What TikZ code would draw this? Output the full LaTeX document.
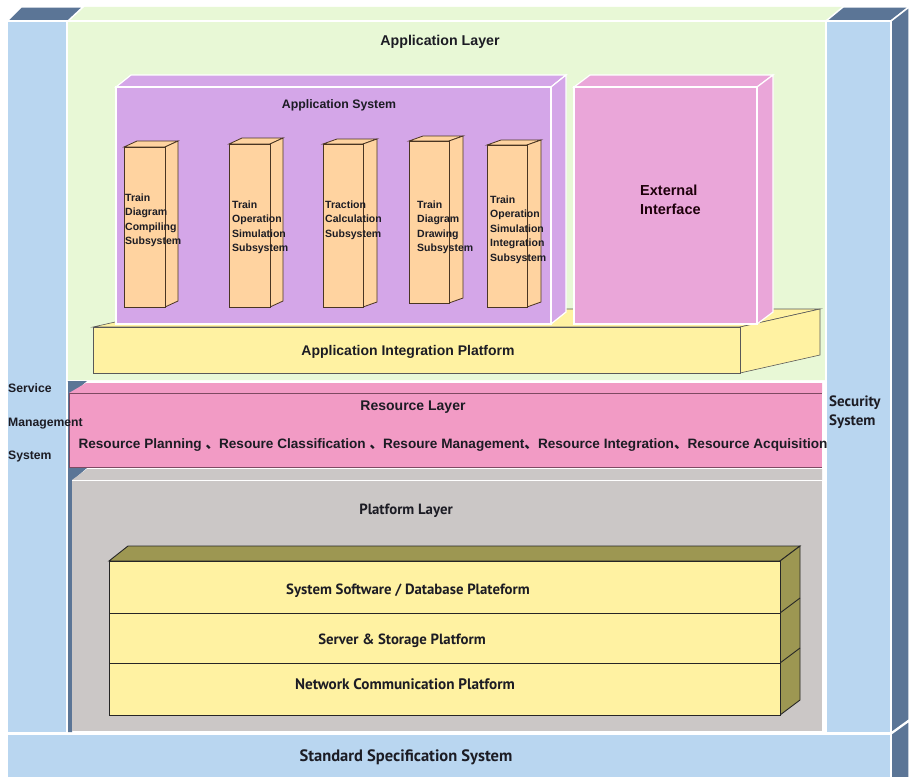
\documentclass[tikz,border=0pt]{standalone}
\usepackage{fontspec}
\setmainfont{Liberation Sans}
\newfontfamily\myr{PT Sans}
\newfontfamily\cjk{Noto Sans CJK SC}

\definecolor{colblue}{HTML}{B9D6F0}
\definecolor{coldark}{HTML}{5B7596}
\definecolor{appgreen}{HTML}{E8F8D6}
\definecolor{apppurple}{HTML}{D4A6E8}
\definecolor{extpink}{HTML}{EAA6D9}
\definecolor{intyellow}{HTML}{FFF2A2}
\definecolor{pillarfill}{HTML}{FFD3A0}
\definecolor{pillaredge}{HTML}{4A3522}
\definecolor{respink}{HTML}{F29BC5}
\definecolor{resedge}{HTML}{7E4A62}
\definecolor{platgray}{HTML}{CBC7C6}
\definecolor{olive}{HTML}{9D9752}
\definecolor{ink}{HTML}{1C1C24}

% front face, then top face and right face of a box seen from the front right
% #1 x1, #2 y1 (top), #3 x2, #4 y2 (bottom), #5 depth dx, #6 depth dy, #7 front style, #8 side style
\newcommand\cuboid[8]{%
  \filldraw[#8] (#1,#2) -- ({#1+#5},{#2-#6}) -- ({#3+#5},{#2-#6}) -- (#3,#2) -- cycle;
  \filldraw[#8] (#3,#2) -- ({#3+#5},{#2-#6}) -- ({#3+#5},{#4-#6}) -- (#3,#4) -- cycle;
  \filldraw[#7] (#1,#2) rectangle (#3,#4);}

\tikzset{
  panel/.style={fill=colblue, draw=white, line width=1.5pt},
  panelside/.style={fill=coldark, draw=white, line width=1.5pt},
  sysbox/.style={fill=apppurple, draw=white, line width=1.2pt},
  extbox/.style={fill=extpink, draw=white, line width=1.2pt},
  pillarbox/.style={fill=pillarfill, draw=pillaredge, line width=0.8pt},
  intbox/.style={fill=intyellow, draw=black!65, line width=0.6pt},
  stackfront/.style={fill=intyellow, draw=black!85, line width=0.9pt},
  stackside/.style={fill=olive, draw=black!85, line width=0.9pt},
  title/.style={font=\bfseries\fontsize{14}{16}\selectfont, text=ink, inner sep=0pt},
  pillartext/.style={font=\bfseries\fontsize{10.5}{14.5}\selectfont, text=ink, align=left,
    anchor=north west, inner sep=0pt},
  mtext/.style={font=\myr\bfseries\fontsize{14.8}{17}\selectfont, text=ink, inner sep=0pt},
}

\begin{document}
\begin{tikzpicture}[x=1pt, y=-1pt]
\useasboundingbox (0,0) rectangle (909,776);
\fill[white] (0,0) rectangle (909,776);

% application layer (green slab)
\fill[appgreen] (68,21) -- (83,7) -- (843,7) -- (826,21) -- (826,380) -- (68,380) -- cycle;
\draw[white, line width=1.2pt] (68,21) -- (826,21);

% service management column (left)
\filldraw[panelside] (7,21) -- (21,7) -- (83,7) -- (68,21) -- cycle;
\filldraw[panel] (7,21) rectangle (67,733);

% security column (right)
\filldraw[panelside] (826,21) -- (843,7) -- (909,7) -- (891,21) -- cycle;
\filldraw[panelside] (891,21) -- (909,7) -- (909,720) -- (891,733) -- cycle;
\filldraw[panel] (826,21) rectangle (891,733);

% standard specification bar (bottom)
\filldraw[panelside] (891,734) -- (909,721) -- (909,778) -- (891,778) -- cycle;
\filldraw[panel] (7,734) rectangle (891,778);

% dark edge of the left column behind the lower layers
\fill[coldark] (67,381) -- (87,381) -- (72,394) -- (72,732) -- (68,732) -- (68,381) -- cycle;
\fill[coldark] (69,467) -- (88,467) -- (72,481) -- cycle;

% resource layer
\fill[respink] (69,393) -- (86,383) -- (822,383) -- (822,393) -- cycle;
\fill[respink] (69,393) rectangle (822,467);
\draw[resedge, line width=0.8pt] (69,393) -- (822,393);
\draw[resedge, line width=0.8pt] (69,467) -- (822,467);
\draw[resedge, line width=0.6pt] (69,393) -- (69,467);

% platform layer
\fill[platgray] (72,480) -- (87,469) -- (822,469) -- (822,480) -- cycle;
\fill[platgray] (72,480) rectangle (822,731);
\draw[white, line width=1pt] (72,480) -- (822,480);

% platform stack
\filldraw[stackside] (109,561) -- (128,546) -- (800,546) -- (780,561) -- cycle;
\filldraw[stackside] (780,561) -- (800,546) -- (800,700) -- (780,715) -- cycle;
\draw[black!85, line width=0.9pt] (780,613) -- (800,598) (780,663) -- (800,648);
\filldraw[stackfront] (109,561) rectangle (780,613);
\filldraw[stackfront] (109,613) rectangle (780,663);
\filldraw[stackfront] (109,663) rectangle (780,715);

% application integration platform
\filldraw[intbox] (93,327) -- (173,309) -- (820,309) -- (740,327) -- cycle;
\filldraw[intbox] (740,327) -- (820,309) -- (820,355) -- (740,373) -- cycle;
\filldraw[intbox] (93,327) rectangle (740,373);

% application system and external interface boxes
\cuboid{116}{87}{551}{324}{15}{12}{sysbox}{sysbox}
\cuboid{574}{87}{757}{324}{16}{12}{extbox}{extbox}

% subsystem pillars
\cuboid{124}{147}{165}{307}{13}{6}{pillarbox}{pillarbox}
\cuboid{229}{144}{270}{307}{13}{6}{pillarbox}{pillarbox}
\cuboid{323}{144}{363}{307}{14}{5}{pillarbox}{pillarbox}
\cuboid{409}{141}{449}{303}{14}{5}{pillarbox}{pillarbox}
\cuboid{487}{145}{527}{307}{14}{5}{pillarbox}{pillarbox}

% labels
\node[title, font=\bfseries\fontsize{14.2}{16}\selectfont] (applayer) at (440,42) {Application Layer};
\node[title, font=\bfseries\fontsize{12.3}{14}\selectfont] (appsys) at (339,105.5) {Application System};
\node[pillartext] (sub1) at (125,193.5) {Train\\Diagram\\Compiling\\Subsystem};
\node[pillartext] (sub2) at (232,200.5) {Train\\Operation\\Simulation\\Subsystem};
\node[pillartext] (sub3) at (325,200.5) {Traction\\Calculation\\Subsystem};
\node[pillartext] (sub4) at (417,200.5) {Train\\Diagram\\Drawing\\Subsystem};
\node[pillartext] (sub5) at (490,195.5) {Train\\Operation\\Simulation\\Integration\\Subsystem};
\node[title, align=left, anchor=north west, font=\bfseries\fontsize{14.5}{19}\selectfont,
      text=black!85!purple] (ext) at (640,184.5) {External\\Interface};
\node[title] (aip) at (408,352) {Application Integration Platform};
\node[title] (reslayer) at (413,407) {Resource Layer};
\node[title, font=\bfseries\fontsize{13.6}{15}\selectfont] (reslist) at (453,445)
  {Resource Planning {\cjk 、}Resoure Classification {\cjk 、}Resoure Management{\cjk 、}Resource Integration{\cjk 、}Resource Acquisition};
\node[title, align=left, anchor=north west, font=\bfseries\fontsize{12.2}{33.5}\selectfont]
  (service) at (8,383.5) {Service\\Management\\System};
\node[mtext, align=left, anchor=north west, font=\myr\bfseries\fontsize{15}{19}\selectfont]
  (security) at (829,396) {Security\\System};
\node[mtext] (platlayer) at (406,511) {Platform Layer};
\node[mtext] (sysdb) at (408,591) {System Software / Database Plateform};
\node[mtext] (server) at (402,641) {Server \& Storage Platform};
\node[mtext, font=\myr\bfseries\fontsize{15.2}{17}\selectfont] (network) at (405,684) {Network Communication Platform};
\node[mtext, font=\myr\bfseries\fontsize{16.5}{18}\selectfont] (spec) at (406,757) {Standard Specification System};
\end{tikzpicture}
\end{document}
